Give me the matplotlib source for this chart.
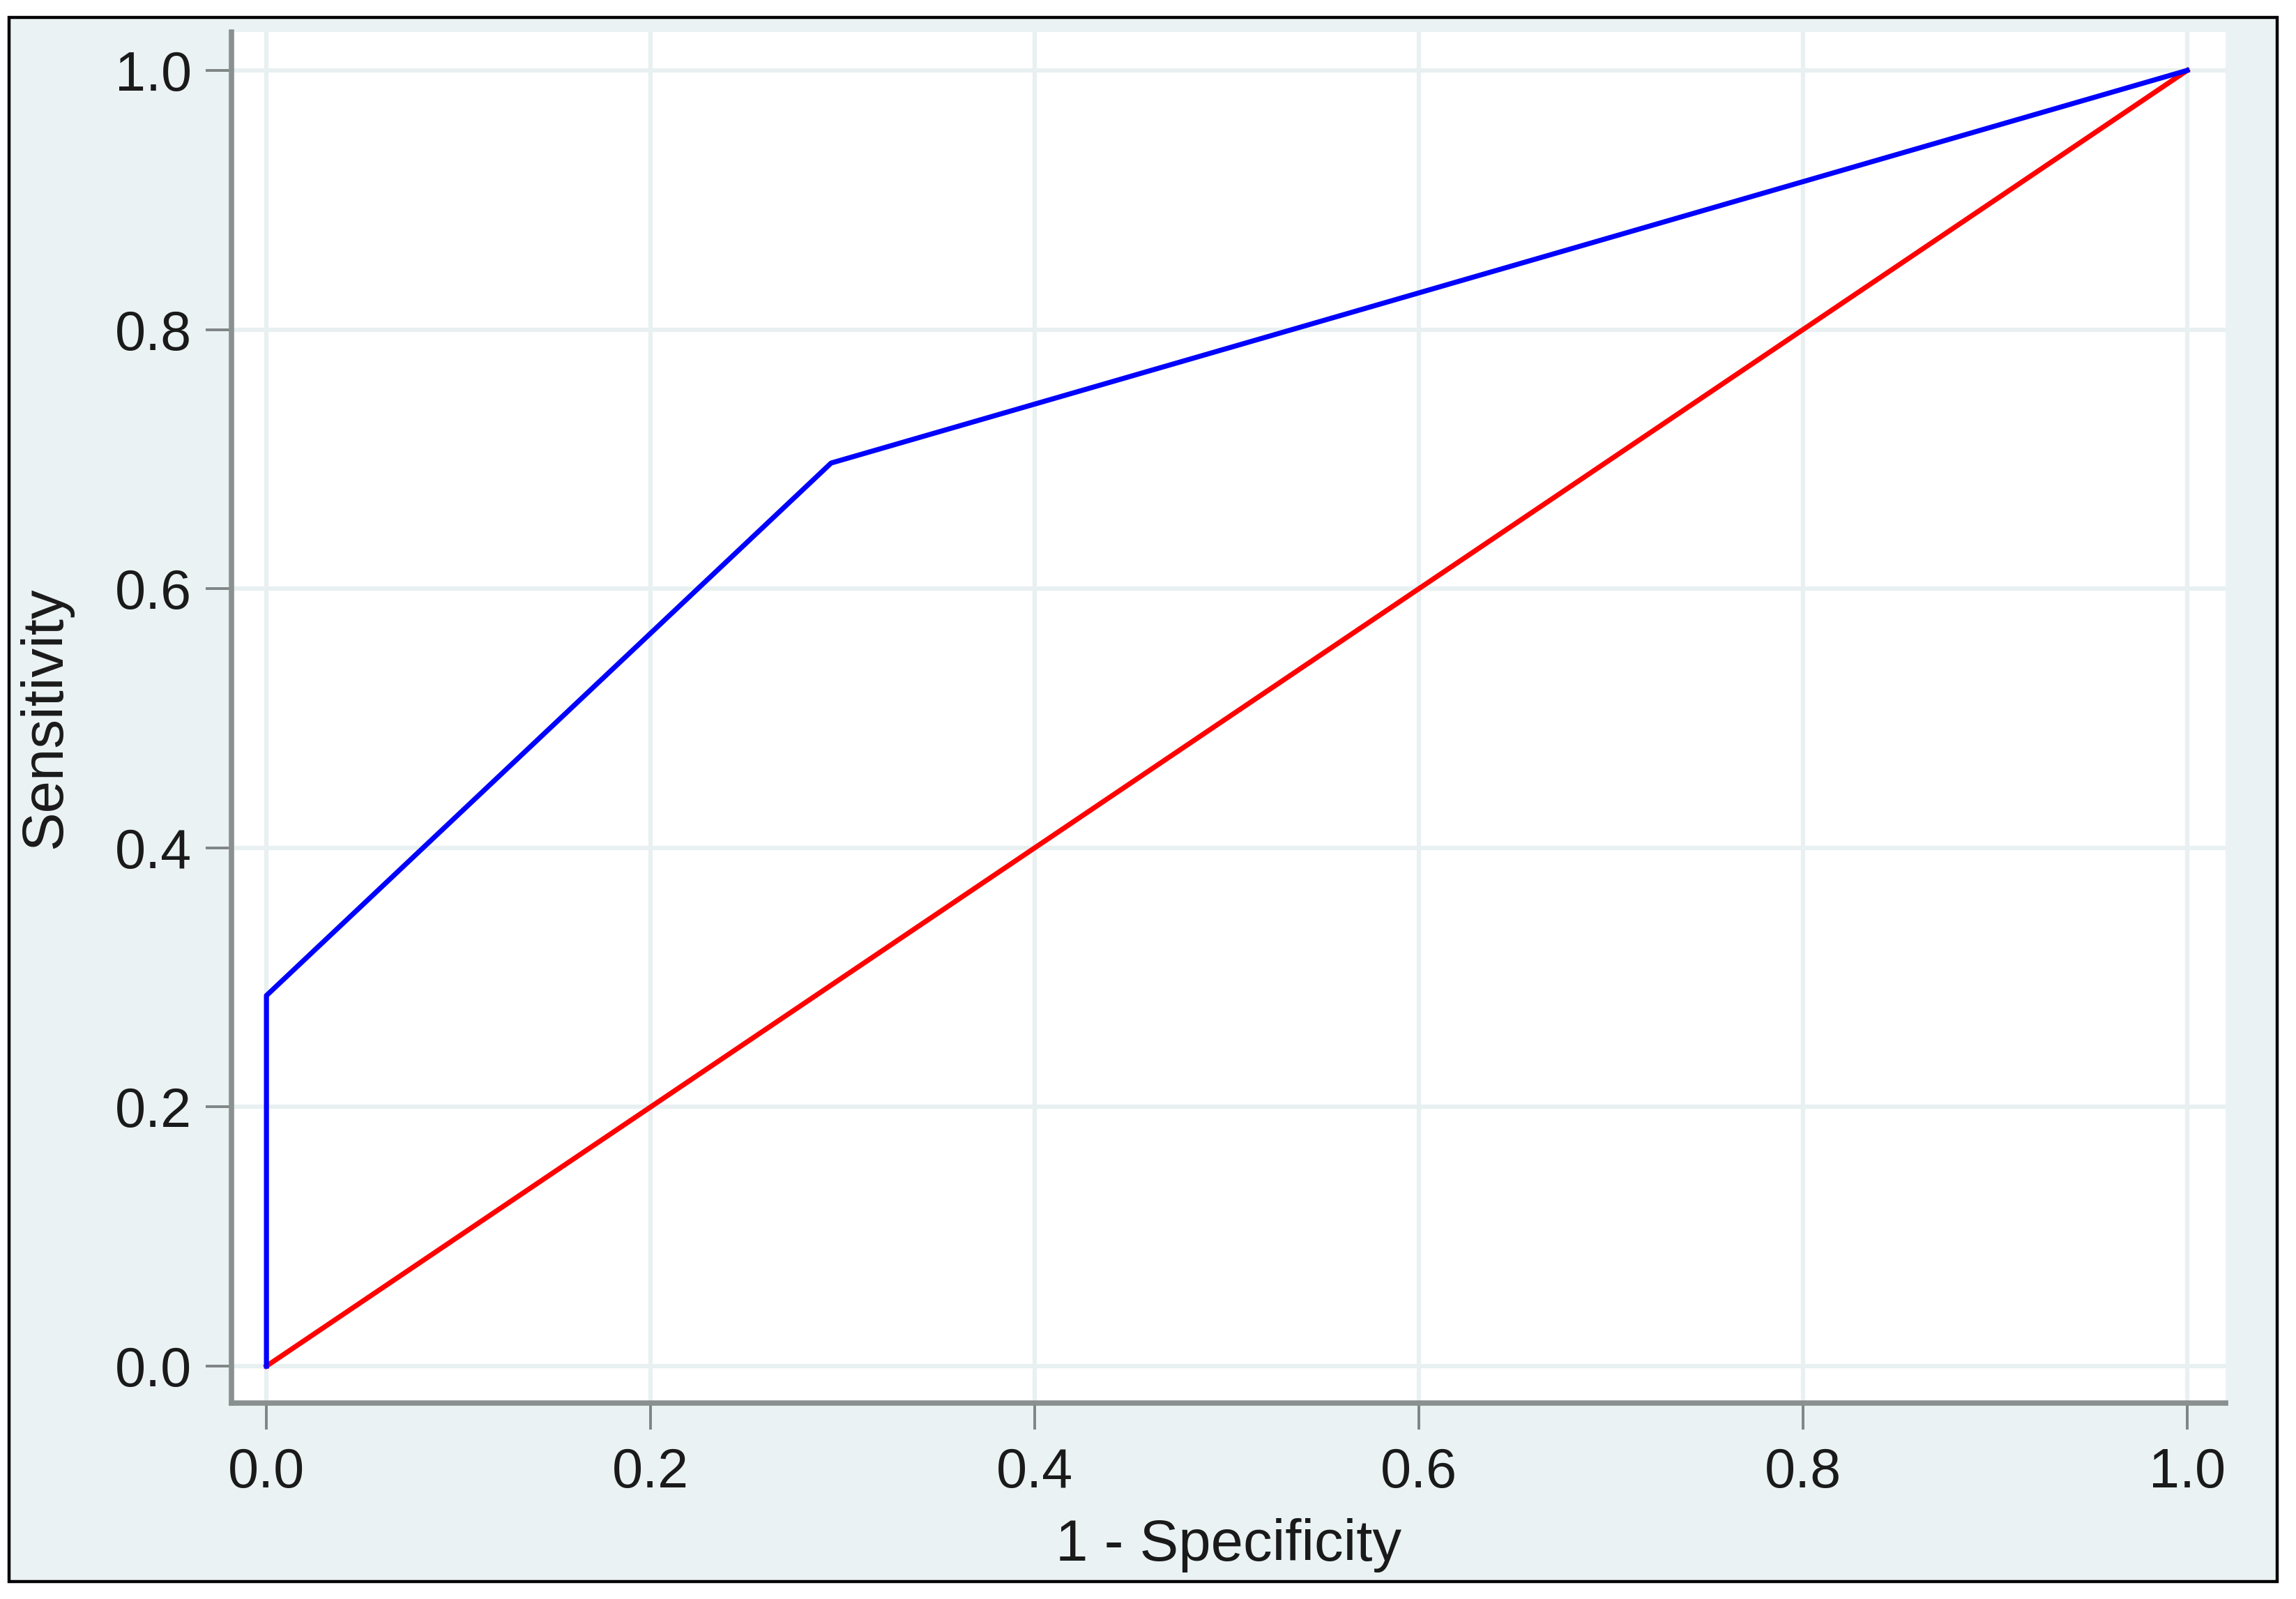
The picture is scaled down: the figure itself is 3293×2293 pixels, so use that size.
import matplotlib
matplotlib.use("Agg")
import matplotlib.pyplot as plt
from matplotlib.patches import Rectangle

# ROC curve points (1 - specificity, sensitivity)
roc_fpr = [0.0, 0.0, 0.294, 1.0]
roc_tpr = [0.0, 0.286, 0.697, 1.0]

# reference (chance) line
ref_fpr = [0.0, 1.0]
ref_tpr = [0.0, 1.0]

ticks = [0.0, 0.2, 0.4, 0.6, 0.8, 1.0]
tick_labels = ["0.0", "0.2", "0.4", "0.6", "0.8", "1.0"]

W, H = 3293, 2293
plt.rcParams["font.family"] = ["Liberation Sans", "DejaVu Sans"]

fig = plt.figure(figsize=(W / 100, H / 100), dpi=100)
fig.patch.set_facecolor("white")

# Stata-like graph region with black frame
frame = Rectangle((13 / W, 1 - 2268 / H), (3266 - 13) / W, (2268 - 25) / H,
                  transform=fig.transFigure, facecolor="#eaf2f3",
                  edgecolor="black", linewidth=3.2, zorder=-10)
fig.add_artist(frame)

ax = fig.add_axes([332 / W, 1 - 2012 / H, (3192 - 332) / W, (2012 - 46) / H])
ax.set_zorder(5)
ax.set_facecolor("white")

ax.plot(ref_fpr, ref_tpr, color="#ff0000", linewidth=5.2, zorder=3)
ax.plot(roc_fpr, roc_tpr, color="#0000ff", linewidth=5.2, zorder=4)

ax.set_xlim(-0.0182, 1.020)
ax.set_ylim(-0.0285, 1.0296)
ax.set_xticks(ticks)
ax.set_xticklabels(tick_labels)
ax.set_yticks(ticks)
ax.set_yticklabels(tick_labels)

ax.grid(True, color="#e8f0f1", linewidth=4.5, zorder=1)
ax.set_axisbelow(True)

for side in ("top", "right"):
    ax.spines[side].set_visible(False)
for side in ("left", "bottom"):
    ax.spines[side].set_color("#8a8f8f")
    ax.spines[side].set_linewidth(5.5)

ax.tick_params(axis="both", direction="out", length=27, width=2.8,
               color="#7f8484", labelsize=57, labelcolor="#1a1a1a")
ax.tick_params(axis="x", pad=18)
ax.tick_params(axis="y", pad=14)

ax.set_xlabel("1 - Specificity", fontsize=60, color="#1a1a1a", labelpad=20)
ax.set_ylabel("Sensitivity", fontsize=60, color="#1a1a1a", labelpad=44)

fig.savefig("out.png", dpi=100)
